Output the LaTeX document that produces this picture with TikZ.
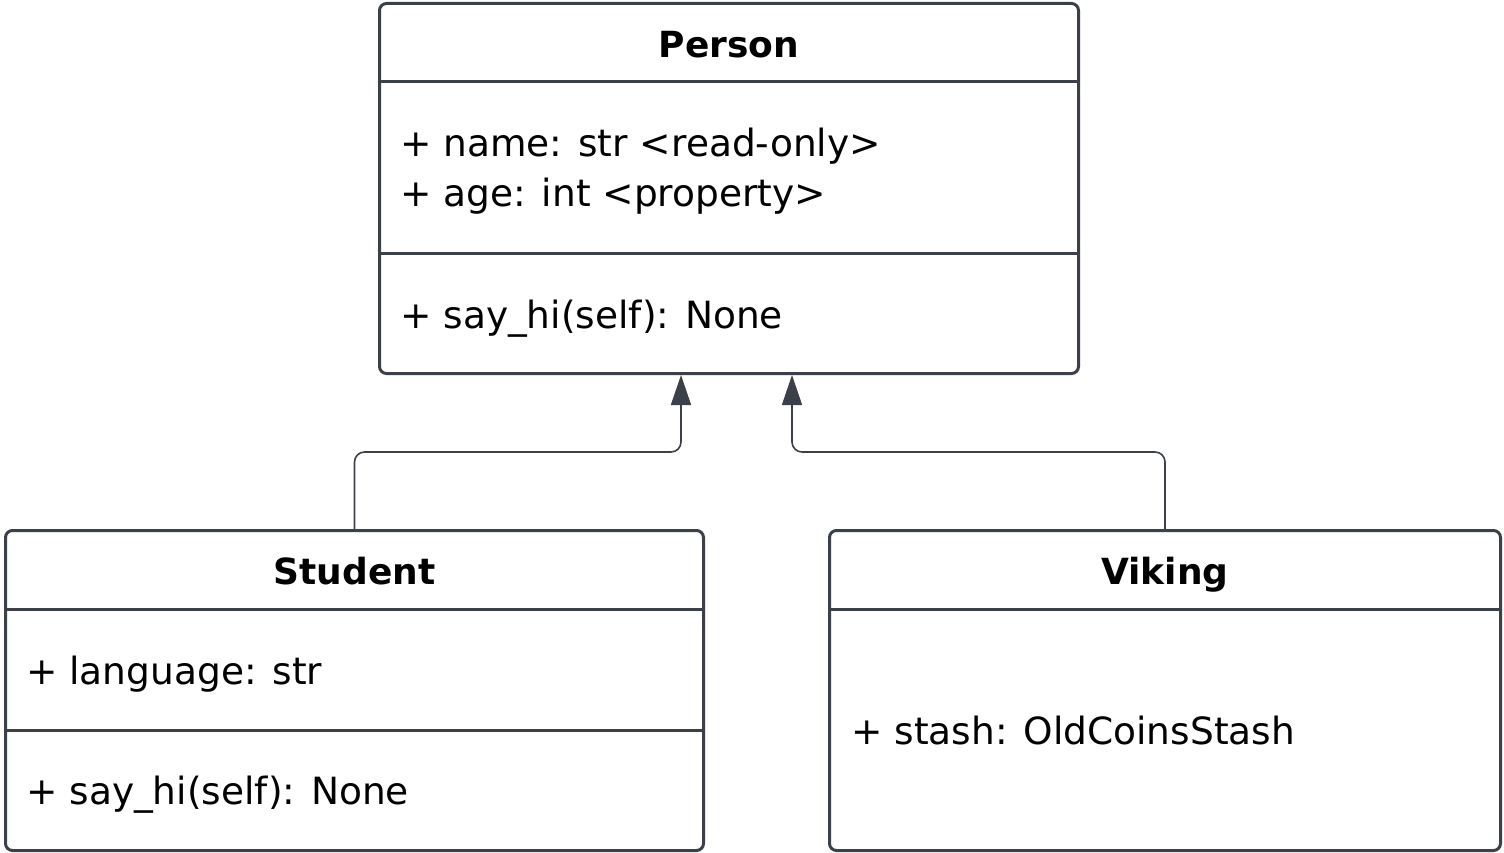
\documentclass[tikz,border=0pt]{standalone}
\usepackage{fontspec}
\setmainfont{DejaVu Sans}
\usetikzlibrary{arrows.meta,positioning,calc}

\definecolor{umlgray}{RGB}{60,64,72}

\tikzset{
  umlbox/.style={draw=umlgray, line width=3pt, rounded corners=7pt, fill=white, inner sep=0pt},
  umlsep/.style={draw=umlgray, line width=3pt},
  umltitle/.style={font=\fontsize{36}{44}\selectfont\bfseries, anchor=base, inner sep=0pt},
  umltext/.style={font=\fontsize{37.5}{50}\selectfont, anchor=base west, inner sep=0pt},
  inherit/.style={draw=umlgray, line width=1.6pt, rounded corners=10pt, -{Triangle[length=30pt,width=20pt]}}
}

\begin{document}
\begin{tikzpicture}[x=1pt, y=-1pt]
  \useasboundingbox (0,0) rectangle (1504,853);

  % classes
  \node[umlbox, minimum width=699pt, minimum height=370pt] (person) at (729,188.5) {};
  \node[umlbox, minimum width=698pt, minimum height=320pt] (student) at (354.5,690.5) {};
  \node[umlbox, minimum width=671pt, minimum height=320pt] (viking) at (1165,690.5) {};

  % compartments
  \draw[umlsep] (person.west |- 0,82) -- (person.east |- 0,82);
  \draw[umlsep] (person.west |- 0,253) -- (person.east |- 0,253);
  \draw[umlsep] (student.west |- 0,609) -- (student.east |- 0,609);
  \draw[umlsep] (student.west |- 0,730) -- (student.east |- 0,730);
  \draw[umlsep] (viking.west |- 0,609) -- (viking.east |- 0,609);

  % Person
  \node[umltitle] (ptitle) at (729,58) {Person};
  \node[umltext] (pname) at (400,157) {+ name: str <read-only>};
  \node[umltext] (page) at (400,207) {+ age: int <property>};
  \node[umltext] (phi) at (400,328) {+ say\_hi(self): None};

  % Student
  \node[umltitle] (stitle) at (354.5,584) {Student};
  \node[umltext] (slang) at (26,684) {+ language: str};
  \node[umltext] (shi) at (26,804) {+ say\_hi(self): None};

  % Viking
  \node[umltitle] (vtitle) at (1165,584) {Viking};
  \node[umltext] (vstash) at (851,744) {+ stash: OldCoinsStash};

  % inheritance
  \coordinate (inS) at ([xshift=-48pt]person.south);
  \coordinate (inV) at ([xshift=63pt]person.south);
  \draw[inherit] (student.north) -- ++(0,-77) -| (inS);
  \draw[inherit] (viking.north) -- ++(0,-77) -| (inV);
\end{tikzpicture}
\end{document}
